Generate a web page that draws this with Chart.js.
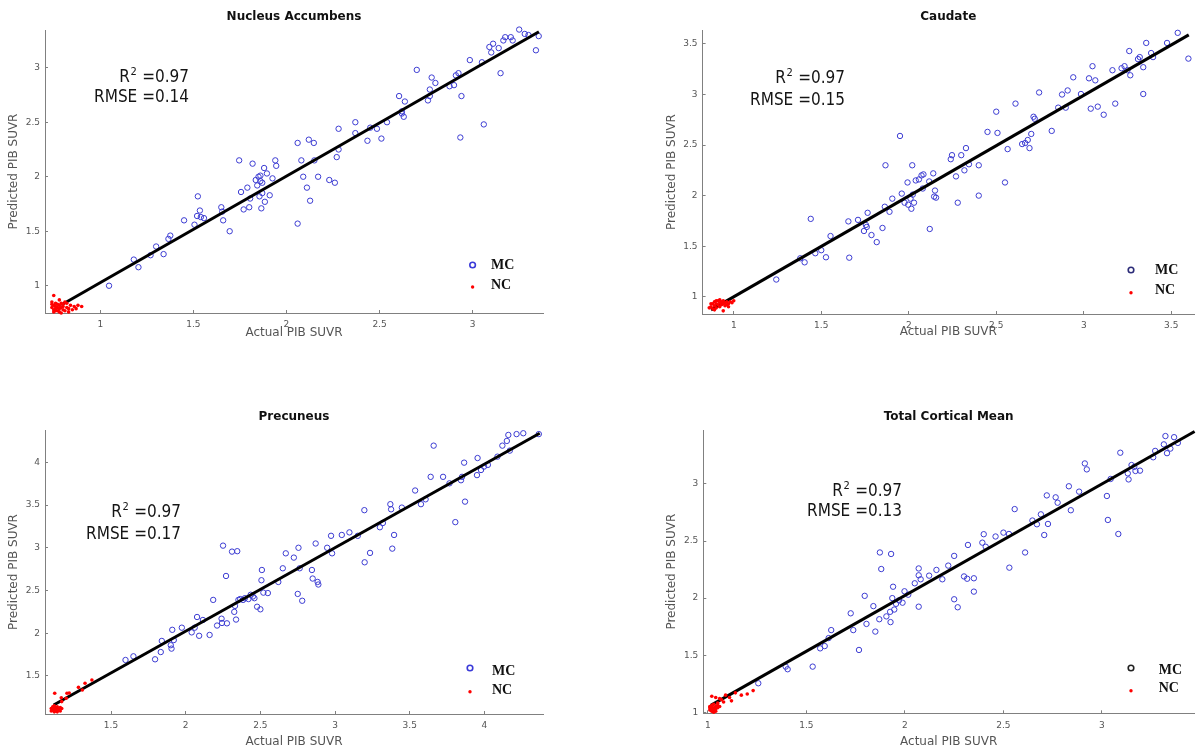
<!DOCTYPE html>
<html><head><meta charset="utf-8">
<script src="https://cdn.jsdelivr.net/npm/chart.js@4.4.1/dist/chart.umd.min.js"></script>
<style>
html,body{margin:0;padding:0;background:#fff;}
#wrap{position:relative;width:1199px;height:751px;overflow:hidden;background:#fff;}
canvas{position:absolute;left:0;top:0;}
</style></head><body><div id="wrap">
<canvas id="c1" width="1199" height="751"></canvas>
<canvas id="c2" width="1199" height="751"></canvas>
<canvas id="c3" width="1199" height="751"></canvas>
<canvas id="c4" width="1199" height="751"></canvas>
</div>
<script>
// ---------------- DATA ----------------
const panelTitles = ['Nucleus Accumbens', 'Caudate', 'Precuneus', 'Total Cortical Mean'];
const r2Values = ['0.97', '0.97', '0.97', '0.97'];
const rmseValues = ['0.14', '0.15', '0.17', '0.13'];
const seriesNames = ['MC', 'NC'];
const xAxisTitle = 'Actual PIB SUVR';
const yAxisTitle = 'Predicted PIB SUVR';

// axis limits [min, max]
const accumbensXRange = [0.703, 3.378], accumbensYRange = [0.75, 3.346];
const caudateXRange = [0.822, 3.63], caudateYRange = [0.829, 3.638];
const precuneusXRange = [1.058, 4.392], precuneusYRange = [1.055, 4.378];
const corticalXRange = [0.977, 3.467], corticalYRange = [0.991, 3.473];

// tick labels
const accumbensXTicks = [1, 1.5, 2, 2.5, 3], accumbensYTicks = [1, 1.5, 2, 2.5, 3];
const caudateXTicks = [1, 1.5, 2, 2.5, 3, 3.5], caudateYTicks = [1, 1.5, 2, 2.5, 3, 3.5];
const precuneusXTicks = [1.5, 2, 2.5, 3, 3.5, 4], precuneusYTicks = [1.5, 2, 2.5, 3, 3.5, 4];
const corticalXTicks = [1, 1.5, 2, 2.5, 3], corticalYTicks = [1, 1.5, 2, 2.5, 3];

// fitted lines [[x0,y0],[x1,y1]]
const accumbensFit = [[0.79, 0.823], [3.356, 3.33]];
const caudateFit = [[0.87, 0.87], [3.60, 3.59]];
const precuneusFit = [[1.116, 1.16], [4.37, 4.34]];
const corticalFit = [[1.015, 1.06], [3.47, 3.46]];

// MC points [actual, predicted]
const accumbensMC = [[1.047,1.00],[1.18,1.24],[1.205,1.17],[1.27,1.28],[1.30,1.36],[1.34,1.29],[1.366,1.43],[1.376,1.46],[1.45,1.60],[1.506,1.56],[1.524,1.82],[1.52,1.64],[1.535,1.69],[1.54,1.63],[1.557,1.62],[1.65,1.72],[1.655,1.68],[1.66,1.60],[1.695,1.50],[1.746,2.15],[1.756,1.86],[1.77,1.70],[1.79,1.90],[1.80,1.72],[1.805,1.80],[1.818,2.12],[1.835,1.97],[1.843,1.92],[1.85,2.00],[1.855,1.82],[1.86,2.01],[1.865,1.71],[1.87,1.945],[1.88,2.08],[1.884,1.77],[1.895,2.03],[1.91,1.83],[1.925,1.985],[1.94,2.15],[1.945,2.10],[1.87,1.85],[1.86,1.96],[2.06,2.31],[2.06,1.57],[2.08,2.15],[2.09,2.00],[2.11,1.90],[2.12,2.34],[2.127,1.78],[2.147,2.31],[2.15,2.15],[2.17,2.00],[2.23,1.97],[2.26,1.945],[2.27,2.18],[2.28,2.25],[2.28,2.44],[2.37,2.50],[2.37,2.40],[2.435,2.33],[2.45,2.45],[2.51,2.35],[2.486,2.44],[2.54,2.50],[2.605,2.74],[2.62,2.58],[2.62,2.60],[2.63,2.55],[2.636,2.69],[2.70,2.98],[2.76,2.70],[2.77,2.74],[2.77,2.80],[2.78,2.91],[2.80,2.86],[2.876,2.83],[2.90,2.84],[2.91,2.93],[2.924,2.95],[2.934,2.36],[2.94,2.74],[2.985,3.07],[3.05,3.05],[3.06,2.48],[3.09,3.19],[3.10,3.14],[3.11,3.22],[3.14,3.18],[3.15,2.95],[3.165,3.25],[3.175,3.28],[3.205,3.28],[3.215,3.25],[3.25,3.35],[3.28,3.31],[3.30,3.30],[3.34,3.16],[3.355,3.29]];
const caudateMC = [[1.243,1.17],[1.38,1.38],[1.405,1.34],[1.44,1.77],[1.466,1.43],[1.50,1.46],[1.527,1.39],[1.553,1.60],[1.655,1.745],[1.66,1.386],[1.71,1.76],[1.744,1.65],[1.755,1.71],[1.76,1.69],[1.765,1.83],[1.787,1.61],[1.817,1.54],[1.85,1.68],[1.867,2.30],[1.863,1.89],[1.89,1.84],[1.906,1.97],[1.95,2.59],[1.96,2.02],[1.976,1.93],[1.993,2.13],[1.997,1.91],[2.01,1.97],[2.015,1.87],[2.02,2.30],[2.023,2.01],[2.03,1.93],[2.04,2.15],[2.058,2.16],[2.073,2.20],[2.084,2.21],[2.08,2.07],[2.117,2.14],[2.12,1.67],[2.14,2.22],[2.15,2.05],[2.145,1.99],[2.156,1.98],[2.24,2.36],[2.247,2.40],[2.27,2.19],[2.28,1.93],[2.30,2.40],[2.318,2.25],[2.327,2.47],[2.344,2.31],[2.40,2.00],[2.40,2.30],[2.45,2.63],[2.50,2.83],[2.507,2.62],[2.55,2.13],[2.565,2.46],[2.61,2.91],[2.648,2.51],[2.665,2.52],[2.68,2.55],[2.69,2.47],[2.70,2.61],[2.713,2.78],[2.72,2.76],[2.745,3.02],[2.817,2.64],[2.854,2.87],[2.876,3.00],[2.908,3.04],[2.897,2.87],[2.94,3.17],[2.984,3.005],[3.03,3.16],[3.04,2.86],[3.05,3.28],[3.066,3.14],[3.08,2.88],[3.114,2.80],[3.164,3.24],[3.18,2.91],[3.216,3.26],[3.233,3.28],[3.25,3.24],[3.26,3.43],[3.266,3.19],[3.31,3.35],[3.32,3.37],[3.34,3.27],[3.34,3.005],[3.357,3.51],[3.385,3.41],[3.396,3.37],[3.476,3.51],[3.537,3.61],[3.598,3.355]];
const precuneusMC = [[1.597,1.687],[1.65,1.73],[1.795,1.695],[1.833,1.78],[1.84,1.91],[1.90,1.86],[1.905,1.82],[1.91,2.04],[1.92,1.92],[1.974,2.065],[2.04,2.01],[2.06,2.065],[2.076,2.19],[2.09,1.97],[2.115,2.155],[2.16,1.98],[2.184,2.39],[2.21,2.09],[2.24,2.17],[2.243,2.12],[2.25,3.025],[2.27,2.67],[2.276,2.116],[2.31,2.955],[2.325,2.25],[2.33,2.32],[2.337,2.16],[2.345,2.96],[2.353,2.39],[2.365,2.40],[2.384,2.39],[2.396,2.41],[2.42,2.40],[2.435,2.45],[2.45,2.43],[2.46,2.41],[2.478,2.31],[2.50,2.28],[2.51,2.74],[2.507,2.62],[2.52,2.475],[2.55,2.47],[2.62,2.60],[2.65,2.76],[2.67,2.935],[2.724,2.885],[2.755,3.00],[2.75,2.46],[2.763,2.76],[2.78,2.38],[2.845,2.74],[2.85,2.64],[2.87,3.05],[2.883,2.60],[2.888,2.57],[2.947,3.00],[2.973,3.14],[2.98,2.935],[3.045,3.15],[3.096,3.18],[3.152,3.14],[3.196,3.44],[3.198,2.83],[3.234,2.94],[3.30,3.24],[3.32,3.29],[3.37,3.51],[3.375,3.45],[3.383,2.99],[3.395,3.15],[3.447,3.47],[3.536,3.67],[3.575,3.51],[3.606,3.567],[3.64,3.83],[3.66,4.195],[3.723,3.83],[3.766,3.754],[3.805,3.30],[3.843,3.79],[3.85,3.83],[3.864,3.996],[3.87,3.54],[3.954,4.05],[3.95,3.85],[3.977,3.91],[3.997,3.95],[4.023,3.97],[4.087,4.066],[4.12,4.195],[4.15,4.25],[4.16,4.32],[4.17,4.137],[4.215,4.33],[4.26,4.34],[4.364,4.33]];
const corticalMC = [[1.256,1.254],[1.395,1.40],[1.405,1.377],[1.532,1.40],[1.57,1.56],[1.593,1.58],[1.613,1.65],[1.626,1.72],[1.725,1.867],[1.738,1.72],[1.767,1.546],[1.796,2.02],[1.805,1.774],[1.84,1.93],[1.85,1.707],[1.87,1.815],[1.873,2.40],[1.88,2.255],[1.906,1.84],[1.927,1.79],[1.925,1.88],[1.93,2.387],[1.936,2.00],[1.94,2.10],[1.946,1.90],[1.955,1.95],[1.97,1.98],[1.988,1.96],[1.998,2.06],[2.017,2.03],[2.05,2.13],[2.07,2.26],[2.07,1.925],[2.07,2.20],[2.08,2.165],[2.123,2.197],[2.16,2.247],[2.19,2.165],[2.22,2.285],[2.25,1.99],[2.25,2.37],[2.268,1.92],[2.30,2.19],[2.316,2.17],[2.32,2.466],[2.35,2.174],[2.35,2.057],[2.393,2.486],[2.40,2.56],[2.41,2.45],[2.46,2.54],[2.50,2.574],[2.528,2.562],[2.53,2.267],[2.557,2.78],[2.61,2.40],[2.647,2.68],[2.67,2.647],[2.69,2.734],[2.707,2.553],[2.72,2.90],[2.726,2.65],[2.765,2.883],[2.775,2.836],[2.832,2.98],[2.842,2.77],[2.884,2.933],[2.913,3.18],[2.923,3.128],[3.025,2.895],[3.03,2.685],[3.044,3.044],[3.083,2.562],[3.093,3.274],[3.131,3.093],[3.135,3.04],[3.15,3.166],[3.164,3.15],[3.17,3.114],[3.193,3.117],[3.26,3.234],[3.27,3.29],[3.314,3.347],[3.322,3.42],[3.33,3.27],[3.347,3.31],[3.366,3.41],[3.385,3.36]];

// NC points [actual, predicted]
const accumbensNC = [[0.74,0.80],[0.75,0.78],[0.75,0.82],[0.76,0.79],[0.76,0.84],[0.77,0.80],[0.77,0.77],[0.78,0.82],[0.78,0.79],[0.74,0.85],[0.75,0.76],[0.76,0.81],[0.77,0.83],[0.78,0.76],[0.79,0.80],[0.79,0.84],[0.80,0.81],[0.80,0.78],[0.81,0.85],[0.81,0.77],[0.82,0.80],[0.83,0.79],[0.84,0.82],[0.86,0.81],[0.87,0.79],[0.88,0.82],[0.90,0.81],[0.75,0.91],[0.79,0.75],[0.83,0.76],[0.74,0.83],[0.76,0.77],[0.80,0.83],[0.85,0.78],[0.78,0.87],[0.82,0.84]];
const caudateNC = [[0.87,0.90],[0.88,0.93],[0.88,0.88],[0.89,0.95],[0.89,0.91],[0.90,0.93],[0.90,0.89],[0.91,0.96],[0.91,0.92],[0.92,0.94],[0.92,0.90],[0.93,0.95],[0.93,0.92],[0.94,0.96],[0.94,0.93],[0.95,0.91],[0.95,0.94],[0.96,0.95],[0.96,0.92],[0.97,0.93],[0.98,0.95],[0.99,0.94],[1.00,0.96],[0.94,0.86],[0.87,0.93],[0.90,0.96],[0.92,0.97],[0.97,0.90],[0.89,0.87],[0.86,0.89]];
const precuneusNC = [[1.10,1.09],[1.11,1.10],[1.11,1.12],[1.12,1.08],[1.12,1.11],[1.13,1.13],[1.13,1.09],[1.14,1.11],[1.14,1.14],[1.15,1.10],[1.15,1.12],[1.16,1.13],[1.11,1.14],[1.12,1.15],[1.13,1.10],[1.14,1.08],[1.16,1.09],[1.17,1.12],[1.10,1.12],[1.12,1.13],[1.123,1.297],[1.167,1.246],[1.205,1.297],[1.22,1.30],[1.282,1.367],[1.308,1.336],[1.326,1.414],[1.372,1.453],[1.17,1.20],[1.20,1.24]];
const corticalNC = [[1.01,1.02],[1.02,1.03],[1.02,1.01],[1.03,1.04],[1.03,1.02],[1.04,1.05],[1.01,1.05],[1.02,1.06],[1.04,1.03],[1.05,1.04],[1.03,1.00],[1.01,1.04],[1.02,1.04],[1.04,1.01],[1.05,1.06],[1.06,1.05],[1.02,1.14],[1.04,1.13],[1.07,1.11],[1.09,1.15],[1.11,1.13],[1.14,1.17],[1.17,1.15],[1.20,1.16],[1.23,1.19],[1.06,1.12],[1.12,1.10],[1.08,1.09],[1.03,1.07],[1.05,1.08]];

// ---------------- LAYOUT / STYLE ----------------
const W = 1199, H = 751;
const Y_SCALE_W = 45, X_SCALE_H = 62;
const TITLE_SIZE = 12, AXIS_TITLE_SIZE = 12, TICK_SIZE = 9;
const MC_COLOR = '#3c3cd2', NC_COLOR = '#ff0000', AXIS_COLOR = '#808080';

const panels = [
  { id: 'c1', title: panelTitles[0], mc: accumbensMC, nc: accumbensNC, fit: accumbensFit,
    xr: accumbensXRange, yr: accumbensYRange, xt: accumbensXTicks, yt: accumbensYTicks,
    area: {L: 45, T: 30, R: 543, B: 313}, ty: 17, yx: 13.4, xy: 333,
    ann: {right: 189, b1: 81.7, b2: 101.7}, r2: r2Values[0], rmse: rmseValues[0],
    leg: {mx: 472.6, my1: 265, my2: 287, tx: 491, ty1: 265, ty2: 285, mcol: '#3a3ad8'} },
  { id: 'c2', title: panelTitles[1], mc: caudateMC, nc: caudateNC, fit: caudateFit,
    xr: caudateXRange, yr: caudateYRange, xt: caudateXTicks, yt: caudateYTicks,
    area: {L: 702.6, T: 30, R: 1198, B: 314}, ty: 17, yx: 672, xy: 332,
    ann: {right: 845, b1: 83, b2: 105}, r2: r2Values[1], rmse: rmseValues[1],
    leg: {mx: 1131, my1: 270, my2: 292.7, tx: 1155, ty1: 270, ty2: 290, mcol: '#2c2c78'} },
  { id: 'c3', title: panelTitles[2], mc: precuneusMC, nc: precuneusNC, fit: precuneusFit,
    xr: precuneusXRange, yr: precuneusYRange, xt: precuneusXTicks, yt: precuneusYTicks,
    area: {L: 45, T: 430, R: 543, B: 714}, ty: 417, yx: 13.4, xy: 742,
    ann: {right: 181, b1: 517, b2: 538.5}, r2: r2Values[2], rmse: rmseValues[2],
    leg: {mx: 470, my1: 668, my2: 691.7, tx: 492, ty1: 671, ty2: 690.7, mcol: '#3a3ad8'} },
  { id: 'c4', title: panelTitles[3], mc: corticalMC, nc: corticalNC, fit: corticalFit,
    xr: corticalXRange, yr: corticalYRange, xt: corticalXTicks, yt: corticalYTicks,
    area: {L: 703.3, T: 430, R: 1198, B: 713.3}, ty: 417, yx: 672, xy: 742,
    ann: {right: 902, b1: 496, b2: 516}, r2: r2Values[3], rmse: rmseValues[3],
    leg: {mx: 1131, my1: 668, my2: 690.7, tx: 1158.7, ty1: 670, ty2: 688, mcol: '#222222'} }
];

// annotation font: condensed sans
const ANN_SIZE = 17;
const probe = document.createElement('canvas').getContext('2d');
probe.font = ANN_SIZE + 'px "DejaVu Sans Condensed"';
const wCond = probe.measureText('RMSE =0.14').width;
probe.font = ANN_SIZE + 'px "DejaVu Sans"';
const wNorm = probe.measureText('RMSE =0.14').width;
const useCond = wCond < wNorm * 0.97;
const ANN_FAMILY = useCond ? '"DejaVu Sans Condensed"' : '"DejaVu Sans"';
const ANN_SX = useCond ? 1 : 0.9;

const decorPlugin = {
  id: 'decor',
  afterDraw(chart, args, opts) {
    const p = opts.panel; if (!p) return;
    const ctx = chart.ctx;
    // R^2 / RMSE annotation
    ctx.save();
    ctx.fillStyle = '#151515';
    ctx.textBaseline = 'alphabetic';
    ctx.translate(p.ann.right, 0);
    ctx.scale(ANN_SX, 1);
    ctx.font = ANN_SIZE + 'px ' + ANN_FAMILY;
    ctx.textAlign = 'right';
    ctx.fillText('RMSE =' + p.rmse, 0, p.ann.b2);
    const rest = ' =' + p.r2;
    const wRest = ctx.measureText(rest).width;
    ctx.fillText(rest, 0, p.ann.b1);
    ctx.font = '11px ' + ANN_FAMILY;
    const wSup = ctx.measureText('2').width;
    ctx.textAlign = 'left';
    ctx.fillText('2', -wRest - wSup - 0.5, p.ann.b1 - 7);
    ctx.font = ANN_SIZE + 'px ' + ANN_FAMILY;
    ctx.textAlign = 'right';
    ctx.fillText('R', -wRest - wSup - 1, p.ann.b1);
    ctx.restore();

    // legend
    ctx.save();
    ctx.strokeStyle = p.leg.mcol; ctx.lineWidth = 1.6;
    ctx.beginPath(); ctx.arc(p.leg.mx, p.leg.my1, 2.8, 0, Math.PI * 2); ctx.stroke();
    ctx.fillStyle = NC_COLOR;
    ctx.beginPath(); ctx.arc(p.leg.mx, p.leg.my2, 1.7, 0, Math.PI * 2); ctx.fill();
    ctx.fillStyle = '#111';
    ctx.font = 'bold 14px "Liberation Serif", "DejaVu Serif", serif';
    ctx.textAlign = 'left'; ctx.textBaseline = 'middle';
    ctx.fillText(seriesNames[0], p.leg.tx, p.leg.ty1);
    ctx.fillText(seriesNames[1], p.leg.tx, p.leg.ty2);
    ctx.restore();
  }
};

function toXY(arr) { return arr.map(d => ({x: d[0], y: d[1]})); }

panels.forEach(p => {
  const a = p.area;
  const padLeft = a.L - Y_SCALE_W;
  const padRight = W - a.R;
  const padTop = p.ty - TITLE_SIZE * 0.6;
  const titlePadBottom = a.T - p.ty - TITLE_SIZE * 0.6;
  const padBottom = H - a.B - X_SCALE_H;
  const yTitlePadTop = p.yx - padLeft - AXIS_TITLE_SIZE * 0.6;
  const xTitlePadBottom = (a.B + X_SCALE_H) - p.xy - AXIS_TITLE_SIZE * 0.6;

  new Chart(document.getElementById(p.id), {
    type: 'scatter',
    data: {
      datasets: [
        { label: 'fit', data: toXY(p.fit), showLine: true, borderColor: '#000', borderWidth: 3,
          pointRadius: 0, fill: false, order: 0, clip: false },
        { label: seriesNames[0], data: toXY(p.mc), pointStyle: 'circle', pointRadius: 2.7,
          borderColor: MC_COLOR, borderWidth: 1, backgroundColor: 'rgba(0,0,0,0)', order: 2, clip: false },
        { label: seriesNames[1], data: toXY(p.nc), pointStyle: 'circle', pointRadius: 1.8,
          borderWidth: 0, backgroundColor: NC_COLOR, order: -1, clip: false }
      ]
    },
    options: {
      responsive: false,
      animation: false,
      events: [],
      layout: { padding: { left: padLeft, right: padRight, top: padTop, bottom: padBottom } },
      plugins: {
        legend: { display: false },
        tooltip: { enabled: false },
        title: { display: true, text: p.title, fullSize: false, color: '#111',
          font: { family: '"DejaVu Sans"', size: TITLE_SIZE, weight: 'bold', lineHeight: 1.2 },
          padding: { top: 0, bottom: titlePadBottom } },
        decor: { panel: p }
      },
      scales: {
        x: {
          type: 'linear', position: 'bottom', min: p.xr[0], max: p.xr[1],
          afterBuildTicks: s => { s.ticks = p.xt.map(v => ({ value: v })); },
          afterFit: s => { s.height = X_SCALE_H; },
          ticks: { callback: v => String(v), color: '#555', padding: 9.6, maxRotation: 0,
            font: { family: '"DejaVu Sans"', size: TICK_SIZE } },
          grid: { display: true, drawOnChartArea: false, drawTicks: true, tickLength: -3, color: AXIS_COLOR },
          border: { display: true, color: AXIS_COLOR, width: 1 },
          title: { display: true, text: xAxisTitle, color: '#555',
            font: { family: '"DejaVu Sans"', size: AXIS_TITLE_SIZE, lineHeight: 1.2 },
            padding: { top: 0, bottom: xTitlePadBottom } }
        },
        y: {
          type: 'linear', position: 'left', min: p.yr[0], max: p.yr[1],
          afterBuildTicks: s => { s.ticks = p.yt.map(v => ({ value: v })); },
          afterFit: s => { s.width = Y_SCALE_W; },
          ticks: { callback: v => String(v), color: '#555', padding: 8,
            font: { family: '"DejaVu Sans"', size: TICK_SIZE } },
          grid: { display: true, drawOnChartArea: false, drawTicks: true, tickLength: -3, color: AXIS_COLOR },
          border: { display: true, color: AXIS_COLOR, width: 1 },
          title: { display: true, text: yAxisTitle, color: '#555',
            font: { family: '"DejaVu Sans"', size: AXIS_TITLE_SIZE, lineHeight: 1.2 },
            padding: { top: yTitlePadTop, bottom: 0 } }
        }
      }
    },
    plugins: [decorPlugin]
  });
});
</script>
</body></html>
